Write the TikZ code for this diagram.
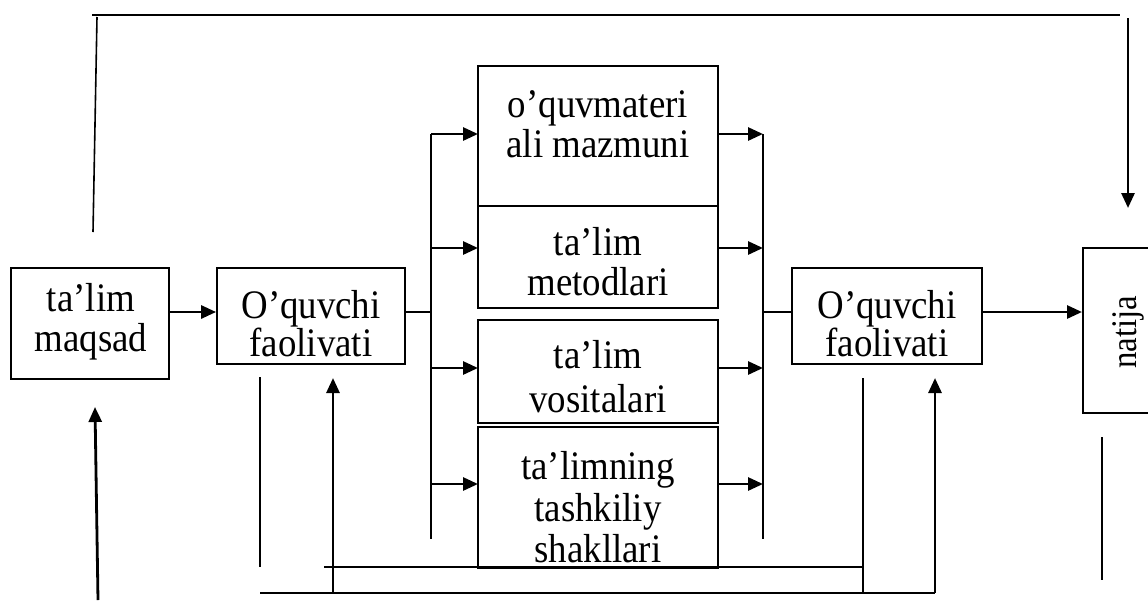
\documentclass[tikz,border=0pt]{standalone}
\usepackage{fontspec}
\setmainfont{Liberation Serif}[FakeStretch=0.91]
\usetikzlibrary{arrows.meta}
\tikzset{
  box/.style={draw, line width=1.8pt, inner sep=0pt},
  txt/.style={align=center, inner sep=0pt, font=\fontsize{40.5}{40}\selectfont},
  txtb/.style={align=center, inner sep=0pt, font=\fontsize{40.5}{33}\selectfont},
  thick line/.style={line width=2.6pt},
  thin line/.style={line width=1.2pt},
  arr/.style={line width=2.8pt, -{Triangle[length=15pt,width=13pt]}},
}
\begin{document}
\begin{tikzpicture}[x=1pt,y=-1pt]
\useasboundingbox (0,0) rectangle (1148,603);
% boxes
\node[box, minimum width=158pt, minimum height=111pt] (maq) at (90,323.5) {};
\node[txt] (maqt) at (91,321.5) {ta’lim\\maqsad};
\node[box, minimum width=188pt, minimum height=96pt] (oq1) at (311,316) {};
\node[txtb] (oq1t) at (311,324) {O’quvchi\\faolivati};
\node[box, minimum width=240pt, minimum height=242pt] (mb12) at (598,187) {};
\coordinate (divl) at (478,206);
\coordinate (divr) at (718,206);
\draw[thin line] (divl) -- (divr);
\node[txt] (mb1t) at (598,124.5) {o’quvmateri\\ali mazmuni};
\node[txt] (mb2t) at (598,261.5) {ta’lim\\metodlari};
\node[box, minimum width=240pt, minimum height=103pt] (mb3) at (598,371.5) {};
\node[txt, font=\fontsize{40.5}{44}\selectfont] (mb3t) at (598,376.5) {ta’lim\\vositalari};
\node[box, minimum width=240pt, minimum height=141pt] (mb4) at (598,497.5) {};
\node[txt, font=\fontsize{40.5}{41.5}\selectfont] (mb4t) at (598,507.5) {ta’limning\\tashkiliy\\shakllari};
\node[box, minimum width=190pt, minimum height=96pt] (oq2) at (887,316) {};
\node[txtb] (oq2t) at (887,324) {O’quvchi\\faolivati};
\node[box, minimum width=120pt, minimum height=165pt, anchor=north west] (nat) at (1082,247) {};
\node[rotate=90, inner sep=0pt, font=\fontsize{36}{40}\selectfont] (natt) at (1128,332) {natija};
% top line
\coordinate (tl) at (92,15);
\coordinate (tr) at (1120,15);
\coordinate (tlv) at (97,17);
\coordinate (tlb) at (93,232);
\coordinate (dtop) at (1128,18);
\coordinate (dtip) at (1128,208);
\draw[thick line] (tl) -- (tr);
\draw[line width=1.6pt] (tlv) -- (tlb);
\draw[arr] (dtop) -- (dtip);
% main flow
\draw[arr] (maq.east |- 0,312) -- (oq1.west |- 0,312);
\coordinate (sl) at (431,312);
\coordinate (sr) at (763,312);
\draw[thin line] (oq1.east |- sl) -- (sl);
\coordinate (lt) at (431,134);
\coordinate (lb) at (431,539);
\draw[thin line] (lt) -- (lb);
\coordinate (rt) at (763,134);
\coordinate (rb) at (763,539);
\draw[line width=1.5pt] (rt) -- (rb);
\foreach \yy in {134,248,368,484}{
  \draw[arr] (431,\yy) -- (478,\yy);
  \draw[arr] (718,\yy) -- (763,\yy);
}
\draw[thin line] (sr) -- (oq2.west |- sr);
\draw[arr] (oq2.east |- 0,312) -- (nat.west |- 0,312);
% bottom feedback
\coordinate (ua0) at (98,600);
\coordinate (ua1) at (95,407);
\draw[arr] (ua0) -- (ua1);
\coordinate (v1t) at (260,377);
\coordinate (v1b) at (260,567);
\draw[thin line] (v1t) -- (v1b);
\coordinate (b1l) at (260,593);
\coordinate (b1r) at (935,593);
\draw[line width=2pt] (b1l) -- (b1r);
\coordinate (a1b) at (333,593);
\draw[arr] (a1b) -- (333,378);
\coordinate (b2l) at (324,567);
\coordinate (b2r) at (863,567);
\draw[line width=1.6pt] (b2l) -- (b2r);
\coordinate (v2t) at (863,378);
\coordinate (v2b) at (863,593);
\draw[line width=1.4pt] (v2t) -- (v2b);
\draw[arr] (b1r) -- (935,378);
\coordinate (v3t) at (1102,437);
\coordinate (v3b) at (1102,580);
\draw[thin line] (v3t) -- (v3b);
\end{tikzpicture}
\end{document}
